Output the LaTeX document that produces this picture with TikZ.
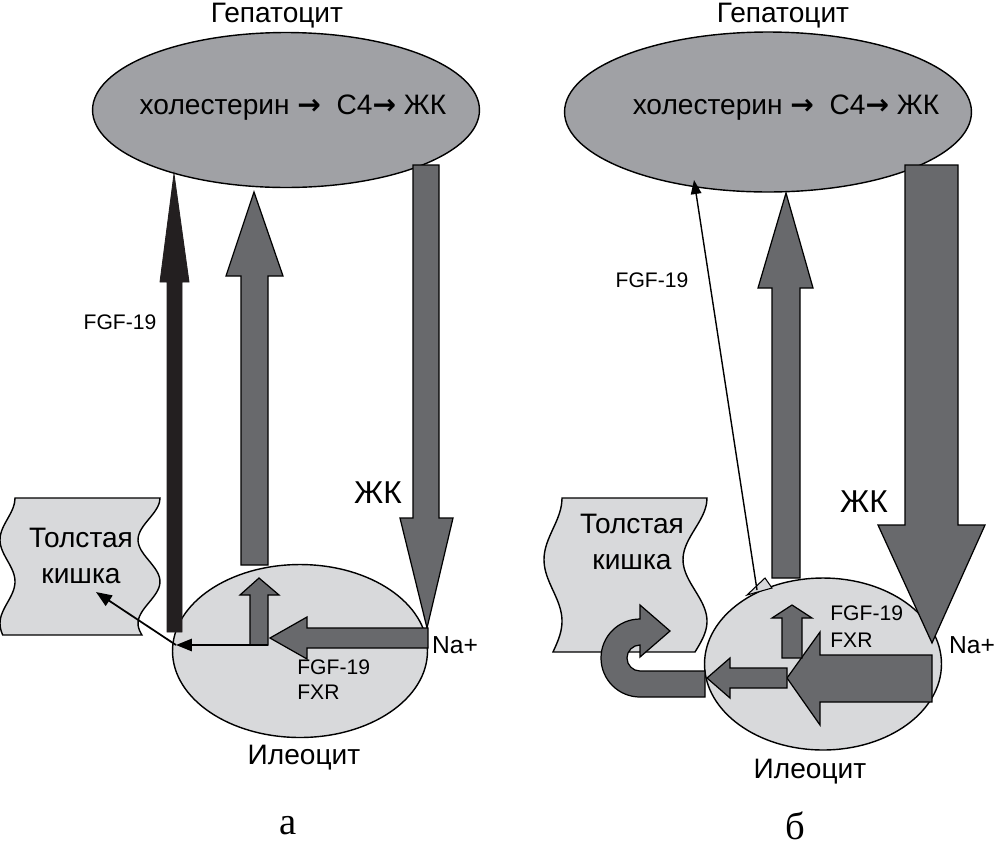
\documentclass[tikz,border=0pt]{standalone}
\usepackage{fontspec}
\setmainfont{Liberation Sans}
\newfontfamily\panelfont{Liberation Serif}
\newfontfamily\arrowfont{DejaVu Sans}
\usepackage{tikz}
\usetikzlibrary{shapes.geometric,arrows.meta}
\definecolor{hepgray}{RGB}{160,161,165}
\definecolor{ilegray}{RGB}{216,217,219}
\definecolor{arrgray}{RGB}{104,105,108}
\definecolor{fgfblack}{RGB}{35,31,32}
\newcommand{\chainarr}{{\arrowfont\bfseries →}}

\begin{document}
\begin{tikzpicture}[x=0.02cm,y=-0.02cm,
  cell/.style={draw,ellipse,line width=0.8pt,inner sep=0pt},
  blk/.style={fill=arrgray,draw=black,line width=0.7pt,line join=miter},
  thinarr/.style={draw=black,line width=1pt,-{Triangle[length=9pt,width=7pt]}},
  lbl/.style={font=\fontsize{16}{20.5}\selectfont,inner sep=0pt},
  big/.style={font=\fontsize{18}{20}\selectfont,inner sep=0pt},
  sm/.style={font=\fontsize{12}{14}\selectfont,inner sep=0pt}]
\useasboundingbox (0,0) rectangle (1000,863);
%
% panel a
\node[cell,fill=hepgray,minimum width=7.74cm,minimum height=3.1cm] (hepA) at (286,110) {};
\node[cell,fill=ilegray,minimum width=5.1cm,minimum height=3.46cm] (ileA) at (300,651) {};
\filldraw[fill=ilegray,line width=0.8pt,variable=\t,smooth,samples=30]
  (15,498) -- (160,498)
  -- plot[domain=0:1] ({149+11*cos(\t*590)},{498+137*\t})
  -- plot[domain=1:0] ({7.5+7.5*cos(\t*590)},{498+137*\t}) -- cycle;
%
\filldraw[fill=fgfblack,draw=fgfblack,line width=0.5pt] (167,632) -- (167,282) -- (160,282) -- (174,174)
  -- (189,282) -- (182,282) -- (182,632) -- cycle;
\filldraw[blk] (241,565) -- (241,276) -- (226,276) -- (254,192) -- (283,276) -- (268,276) -- (268,565) -- cycle;
\filldraw[blk] (413,165) -- (439,165) -- (439,518) -- (453,518) -- (427,628) -- (400,518) -- (413,518) -- cycle;
\filldraw[blk] (428,628) -- (307,628) -- (307,617) -- (270,638) -- (307,659) -- (307,648) -- (428,648) -- cycle;
\filldraw[blk] (250,645) -- (250,595) -- (240,595) -- (259,578) -- (279,595) -- (268,595) -- (268,645) -- cycle;
%
\coordinate (outA) at (268,645);
\coordinate (kinkA) at (176,645);
\coordinate (colA) at (96,592);
\draw[thinarr] (outA) -- (kinkA);
\draw[thinarr] (kinkA) -- (colA);
%
\node[lbl] (titA) at (277,16) {Гепатоцит};
\node[lbl] (chainA) at (293,108) {холестерин \chainarr\ \ С4\chainarr\ ЖК};
\node[sm] (fgfA) at (120,322) {FGF-19};
\node[big] (baA) at (378,493) {ЖК};
\node[lbl,align=center] (colonA) at (81,556) {Толстая\\кишка};
\node[sm,anchor=west] (fgfinA) at (297,667) {FGF-19};
\node[sm,anchor=west] (fxrA) at (297,692) {FXR};
\node[font=\fontsize{14}{16}\selectfont,inner sep=0pt] (naA) at (455,645) {Na+};
\node[lbl] (ileoA) at (304,758) {Илеоцит};
\node[font=\panelfont\fontsize{22}{24}\selectfont,inner sep=0pt] (panA) at (288,826) {а};
%
% panel b
\node[cell,fill=hepgray,minimum width=8.14cm,minimum height=3.2cm] (hepB) at (768,112) {};
\node[cell,fill=ilegray,minimum width=4.74cm,minimum height=3.44cm] (ileB) at (823,664) {};
\filldraw[fill=ilegray,line width=0.8pt,variable=\t,smooth,samples=30]
  (562,498) -- (707,498)
  -- plot[domain=0:1] ({695+12*cos(\t*450)},{498+154*\t})
  -- plot[domain=1:0] ({553+9*cos(\t*450)},{498+154*\t}) -- cycle;
%
\filldraw[blk] (905,165) -- (958,165) -- (958,525) -- (985,525) -- (932,643) -- (878,525) -- (905,525) -- cycle;
\filldraw[blk] (772,578) -- (772,288) -- (758,288) -- (786,193) -- (813,288) -- (800,288) -- (800,578) -- cycle;
\filldraw[blk] (932,655) -- (820,655) -- (820,632) -- (787,678) -- (820,725) -- (820,702) -- (932,702) -- cycle;
\filldraw[blk] (787,668) -- (730,668) -- (730,658) -- (707,678) -- (730,698) -- (730,688) -- (787,688) -- cycle;
\filldraw[blk] (782,658) -- (782,618) -- (772,618) -- (792,605) -- (812,618) -- (802,618) -- (802,658) -- cycle;
% U-turn into the colon
\filldraw[blk] (705,671) -- (640,671) arc[start angle=90,end angle=270,radius=13]
  -- (640,657) -- (670,631) -- (640,605) -- (640,619)
  arc[start angle=270,end angle=90,radius=39] -- (705,697) -- cycle;
\filldraw[fill=ilegray,draw=black,line width=0.6pt] (747,595) -- (765,578) -- (772,588) -- cycle;
%
\coordinate (outB) at (757,590);
\coordinate (hepinB) at (694,180);
\draw[draw=black,line width=0.8pt,-{Triangle[length=8pt,width=6pt]}] (outB) -- (hepinB);
%
\node[lbl] (titB) at (783,16) {Гепатоцит};
\node[lbl] (chainB) at (786,108) {холестерин \chainarr\ \ С4\chainarr\ ЖК};
\node[sm] (fgfB) at (652,280) {FGF-19};
\node[big] (baB) at (864,502) {ЖК};
\node[lbl,align=center] (colonB) at (632,542) {Толстая\\кишка};
\node[sm,anchor=west] (fgfinB) at (830,613) {FGF-19};
\node[sm,anchor=west] (fxrB) at (830,640) {FXR};
\node[font=\fontsize{14}{16}\selectfont,inner sep=0pt] (naB) at (972,645) {Na+};
\node[lbl] (ileoB) at (810,772) {Илеоцит};
\node[font=\panelfont\fontsize{22}{24}\selectfont,inner sep=0pt] (panB) at (795,826) {б};
\end{tikzpicture}
\end{document}
